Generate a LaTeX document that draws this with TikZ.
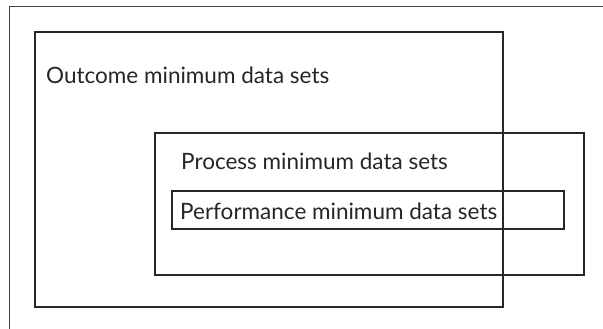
\documentclass[tikz,border=0pt]{standalone}
\usepackage{fontspec}
\setmainfont{Lato}
\begin{document}
\begin{tikzpicture}[x=1pt,y=-1pt,
  box/.style={draw=black!85,line width=1.8pt},
  lbl/.style={anchor=base west,inner sep=0pt,font=\fontsize{22.5}{26}\selectfont,text=black!85}]
\useasboundingbox (0,0) rectangle (603,329);
\draw[black!75,line width=1pt] (9,329) -- (9,7) -- (603,7);
\draw[box] (35,32) rectangle (503,307);
\draw[box] (155,133) rectangle (584,275);
\draw[box] (172,191) rectangle (564,229);
\node[lbl] (outcome) at (46,84) {Outcome minimum data sets};
\node[lbl] (process) at (181,169) {Process minimum data sets};
\node[lbl] (performance) at (180,219) {Performance minimum data sets};
\end{tikzpicture}
\end{document}
